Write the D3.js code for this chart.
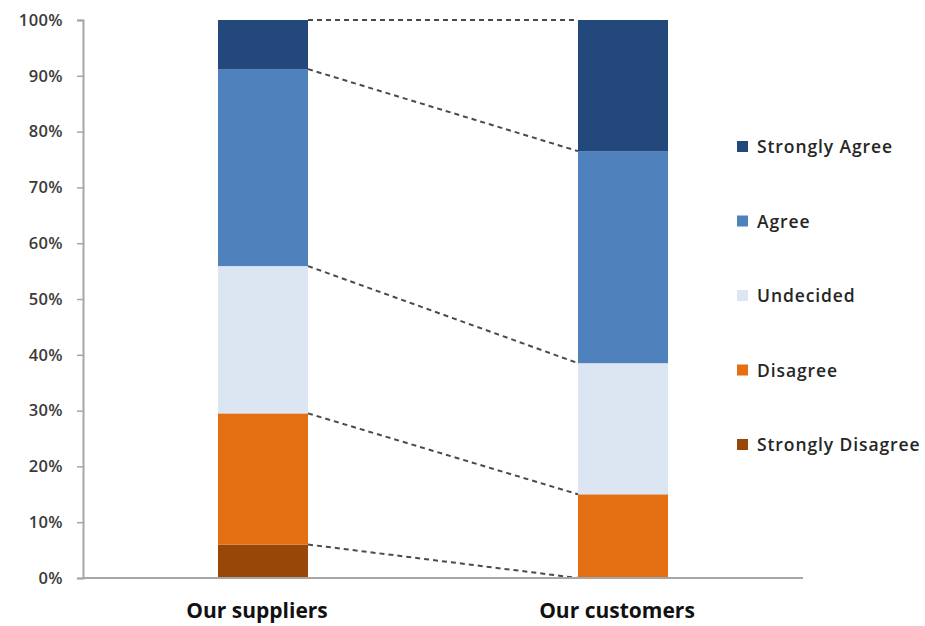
<!DOCTYPE html>
<html>
<head>
<meta charset="utf-8">
<script src="https://cdn.jsdelivr.net/npm/d3@7"></script>
<style>
  body { margin: 0; background: #fff; }
  text { font-family: "Open Sans", "Liberation Sans", sans-serif; }
</style>
</head>
<body>
<svg id="chart" width="925" height="626"></svg>
<script>
// ---- data ----
const categories = ["Our suppliers", "Our customers"];
const responses = ["Strongly Disagree", "Disagree", "Undecided", "Agree", "Strongly Agree"];
const stronglyDisagree = [6.0, 0.0];
const disagree = [23.5, 15.0];
const undecided = [26.4, 23.5];
const agree = [35.3, 38.0];
const stronglyAgree = [8.8, 23.5];
const yTicks = [0, 10, 20, 30, 40, 50, 60, 70, 80, 90, 100];

const colors = {
  "Strongly Agree": "#23487c",
  "Agree": "#4f81bd",
  "Undecided": "#dce6f2",
  "Disagree": "#e46f12",
  "Strongly Disagree": "#984708"
};

// build rows for d3.stack
const rows = categories.map((c, i) => ({
  cat: c,
  "Strongly Disagree": stronglyDisagree[i],
  "Disagree": disagree[i],
  "Undecided": undecided[i],
  "Agree": agree[i],
  "Strongly Agree": stronglyAgree[i]
}));

const svg = d3.select("#chart");
const x0 = 83, x1 = 803, yTop = 20, yBottom = 578;
const barW = 90;

const x = d3.scalePoint().domain(categories).range([x0, x1]).padding(0.5);
const y = d3.scaleLinear().domain([0, 100]).range([yBottom, yTop]);

const series = d3.stack().keys(responses)(rows);

// bars
svg.append("g").selectAll("g")
  .data(series)
  .join("g")
  .attr("fill", d => colors[d.key])
  .selectAll("rect")
  .data(d => d)
  .join("rect")
  .attr("x", d => x(d.data.cat) - barW / 2)
  .attr("y", d => y(d[1]))
  .attr("width", barW)
  .attr("height", d => y(d[0]) - y(d[1]));

// dashed series lines between the two bars
const lineData = series.map(s => ({ key: s.key, a: s[0][1], b: s[1][1] }));
svg.append("g").selectAll("line")
  .data(lineData)
  .join("line")
  .attr("x1", x(categories[0]) + barW / 2)
  .attr("x2", x(categories[1]) - barW / 2)
  .attr("y1", d => y(d.a))
  .attr("y2", d => y(d.b))
  .attr("stroke", "#4a4a4a")
  .attr("stroke-width", 2)
  .attr("stroke-dasharray", "5,4");

// y axis
const yAxis = svg.append("g")
  .attr("transform", `translate(${x0},0)`)
  .call(d3.axisLeft(y).tickValues(yTicks).tickFormat(d => d + "%").tickSizeOuter(0).tickSize(6).tickPadding(14));
yAxis.select(".domain").attr("stroke", "#a6a6a6").attr("stroke-width", 2);
yAxis.selectAll(".tick line").attr("stroke", "#a6a6a6").attr("stroke-width", 1.5);
yAxis.selectAll(".tick text")
  .attr("fill", "#3a3a3a")
  .style("font-size", "16.5px")
  .style("font-weight", "600")
  .style("letter-spacing", "0.4px")
  .style("font-family", "'Open Sans', sans-serif");

// x axis line
svg.append("line")
  .attr("x1", x0).attr("x2", x1)
  .attr("y1", yBottom).attr("y2", yBottom)
  .attr("stroke", "#a6a6a6").attr("stroke-width", 2);

// category labels
svg.append("g").selectAll("text")
  .data(categories)
  .join("text")
  .attr("x", d => x(d) - 6)
  .attr("y", 618)
  .attr("text-anchor", "middle")
  .attr("fill", "#111")
  .style("font-size", "21px")
  .style("font-weight", "700")
  .text(d => d);

// legend (top to bottom)
const legendItems = responses.slice().reverse();
const legend = svg.append("g").selectAll("g")
  .data(legendItems)
  .join("g")
  .attr("transform", (d, i) => `translate(737,${147 + i * 74.5})`);
legend.append("rect")
  .attr("x", 0).attr("y", -6)
  .attr("width", 11).attr("height", 11)
  .attr("fill", d => colors[d]);
legend.append("text")
  .attr("x", 20).attr("y", 0)
  .attr("dy", "0.35em")
  .attr("fill", "#262626")
  .style("font-size", "17.5px")
  .style("font-weight", "600")
  .style("letter-spacing", "0.9px")
  .text(d => d);
</script>
</body>
</html>
